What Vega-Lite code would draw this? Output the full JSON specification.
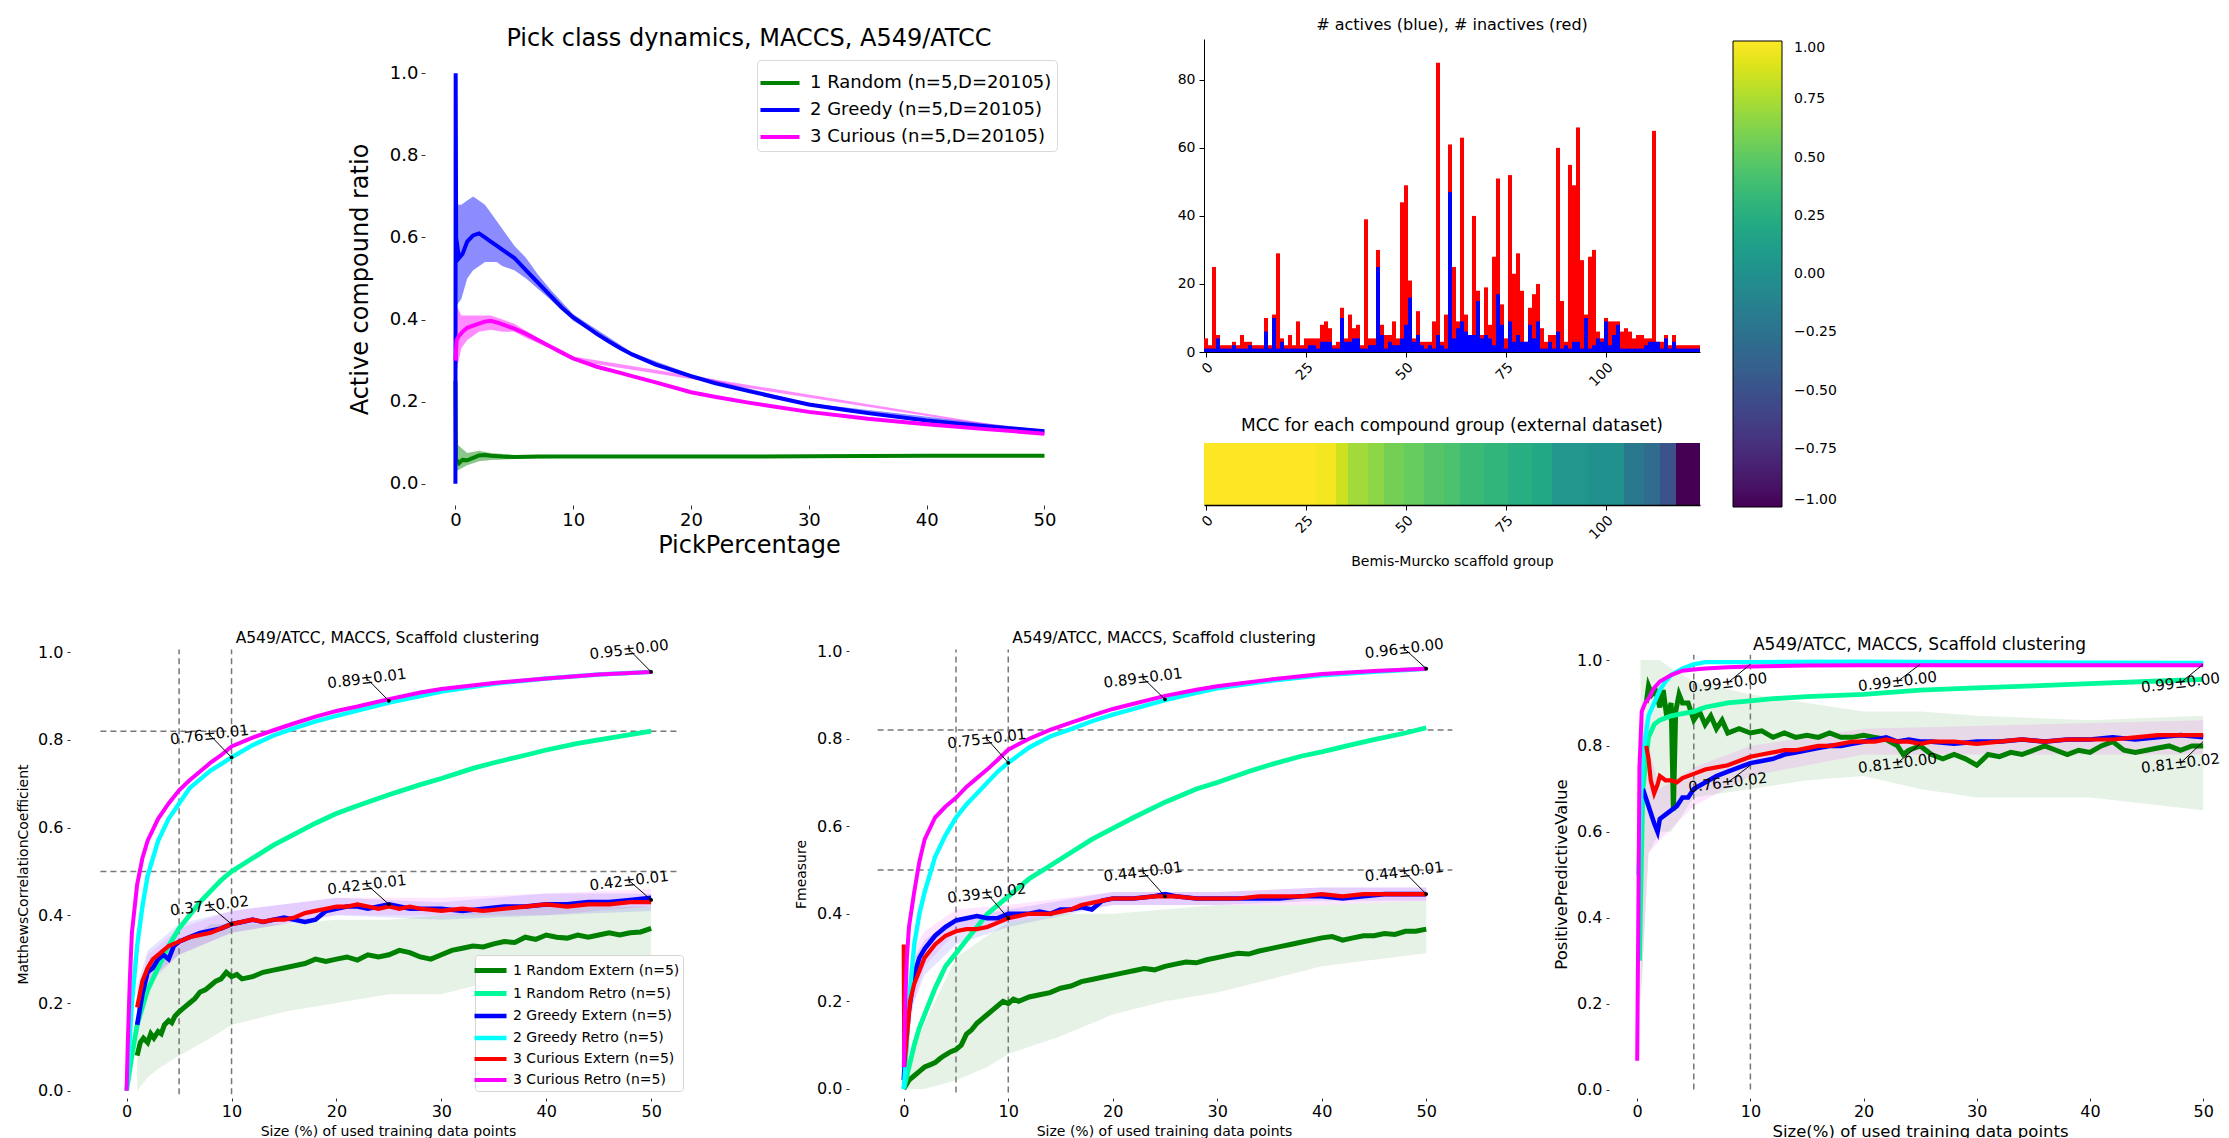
{
"$schema":"https://vega.github.io/schema/vega-lite/v6.json",
"padding":{"left":16,"top":16,"right":0,"bottom":0},
"background":"white",
"config":{"font":"DejaVu Sans","view":{"stroke":"transparent"},
 "axis":{"grid":false,"domain":false,"tickColor":"#333333","labelColor":"#000000","titleColor":"#000000","titleFontWeight":"normal"},
 "title":{"fontWeight":"normal","color":"#000000"},
 "legend":{"labelColor":"#000000","labelLimit":400}},
"datasets":{
"a":[
{"s":"1R","x":0,"y":0.25},{"s":"1R","x":0.05,"y":0.06},{"s":"1R","x":0.3,"y":0.05},{"s":"1R","x":0.6,"y":0.058},{"s":"1R","x":1,"y":0.057},{"s":"1R","x":1.5,"y":0.063},{"s":"1R","x":2,"y":0.069},{"s":"1R","x":2.5,"y":0.07},{"s":"1R","x":3,"y":0.068},{"s":"1R","x":4,"y":0.066},{"s":"1R","x":5,"y":0.065},{"s":"1R","x":7,"y":0.066},{"s":"1R","x":10,"y":0.066},{"s":"1R","x":15,"y":0.066},{"s":"1R","x":20,"y":0.066},{"s":"1R","x":25,"y":0.066},{"s":"1R","x":30,"y":0.067},{"s":"1R","x":40,"y":0.068},{"s":"1R","x":50,"y":0.068},
{"s":"2G","x":0,"y":0},{"s":"2G","x":0.02,"y":1.0},{"s":"2G","x":0.06,"y":0.6},{"s":"2G","x":0.3,"y":0.55},{"s":"2G","x":0.6,"y":0.56},{"s":"2G","x":1,"y":0.59},{"s":"2G","x":1.5,"y":0.605},{"s":"2G","x":2,"y":0.61},{"s":"2G","x":2.5,"y":0.6},{"s":"2G","x":3,"y":0.59},{"s":"2G","x":3.5,"y":0.58},{"s":"2G","x":4,"y":0.57},{"s":"2G","x":5,"y":0.55},{"s":"2G","x":6,"y":0.52},{"s":"2G","x":7,"y":0.49},{"s":"2G","x":8,"y":0.46},{"s":"2G","x":9,"y":0.43},{"s":"2G","x":10,"y":0.405},{"s":"2G","x":11,"y":0.385},{"s":"2G","x":12,"y":0.365},{"s":"2G","x":13,"y":0.347},{"s":"2G","x":14,"y":0.33},{"s":"2G","x":15,"y":0.315},{"s":"2G","x":17,"y":0.29},{"s":"2G","x":20,"y":0.262},{"s":"2G","x":22,"y":0.245},{"s":"2G","x":25,"y":0.225},{"s":"2G","x":27,"y":0.212},{"s":"2G","x":30,"y":0.193},{"s":"2G","x":33,"y":0.18},{"s":"2G","x":35,"y":0.172},{"s":"2G","x":40,"y":0.154},{"s":"2G","x":45,"y":0.14},{"s":"2G","x":50,"y":0.128},
{"s":"3C","x":0,"y":0.3},{"s":"3C","x":0.1,"y":0.35},{"s":"3C","x":0.3,"y":0.36},{"s":"3C","x":0.6,"y":0.37},{"s":"3C","x":1,"y":0.38},{"s":"3C","x":1.5,"y":0.385},{"s":"3C","x":2,"y":0.39},{"s":"3C","x":2.5,"y":0.395},{"s":"3C","x":3,"y":0.397},{"s":"3C","x":3.5,"y":0.393},{"s":"3C","x":4,"y":0.388},{"s":"3C","x":5,"y":0.378},{"s":"3C","x":6,"y":0.365},{"s":"3C","x":7,"y":0.35},{"s":"3C","x":8,"y":0.335},{"s":"3C","x":9,"y":0.32},{"s":"3C","x":10,"y":0.305},{"s":"3C","x":12,"y":0.285},{"s":"3C","x":14,"y":0.27},{"s":"3C","x":15,"y":0.262},{"s":"3C","x":17,"y":0.247},{"s":"3C","x":20,"y":0.223},{"s":"3C","x":22,"y":0.212},{"s":"3C","x":25,"y":0.197},{"s":"3C","x":27,"y":0.188},{"s":"3C","x":30,"y":0.175},{"s":"3C","x":35,"y":0.158},{"s":"3C","x":40,"y":0.145},{"s":"3C","x":45,"y":0.133},{"s":"3C","x":50,"y":0.122}],
"ab":[
{"s":"1R","x":0,"lo":0.03,"hi":0.1},{"s":"1R","x":1,"lo":0.045,"hi":0.075},{"s":"1R","x":2,"lo":0.055,"hi":0.08},{"s":"1R","x":3,"lo":0.058,"hi":0.075},{"s":"1R","x":5,"lo":0.06,"hi":0.07},{"s":"1R","x":10,"lo":0.063,"hi":0.069},{"s":"1R","x":50,"lo":0.066,"hi":0.07},
{"s":"2G","x":0,"lo":0.43,"hi":0.68},{"s":"2G","x":0.5,"lo":0.45,"hi":0.68},{"s":"2G","x":1,"lo":0.5,"hi":0.69},{"s":"2G","x":1.5,"lo":0.52,"hi":0.7},{"s":"2G","x":2,"lo":0.53,"hi":0.69},{"s":"2G","x":2.5,"lo":0.54,"hi":0.68},{"s":"2G","x":3,"lo":0.54,"hi":0.66},{"s":"2G","x":3.5,"lo":0.54,"hi":0.64},{"s":"2G","x":4,"lo":0.53,"hi":0.62},{"s":"2G","x":5,"lo":0.52,"hi":0.58},{"s":"2G","x":6,"lo":0.5,"hi":0.55},{"s":"2G","x":7,"lo":0.475,"hi":0.51},{"s":"2G","x":8,"lo":0.45,"hi":0.475},{"s":"2G","x":10,"lo":0.397,"hi":0.413},{"s":"2G","x":15,"lo":0.31,"hi":0.32},{"s":"2G","x":20,"lo":0.257,"hi":0.267},{"s":"2G","x":30,"lo":0.19,"hi":0.196},{"s":"2G","x":50,"lo":0.126,"hi":0.131},
{"s":"3C","x":0,"lo":0.26,"hi":0.44},{"s":"3C","x":0.5,"lo":0.33,"hi":0.41},{"s":"3C","x":1,"lo":0.35,"hi":0.41},{"s":"3C","x":2,"lo":0.37,"hi":0.41},{"s":"3C","x":3,"lo":0.375,"hi":0.41},{"s":"3C","x":4,"lo":0.37,"hi":0.4},{"s":"3C","x":5,"lo":0.37,"hi":0.39},{"s":"3C","x":6,"lo":0.355,"hi":0.372},{"s":"3C","x":8,"lo":0.33,"hi":0.34},{"s":"3C","x":10,"lo":0.3,"hi":0.31},{"s":"3C","x":50,"lo":0.12,"hi":0.124}],
"bi":[{"g":0,"n":4},{"g":1,"n":2},{"g":2,"n":25},{"g":3,"n":5},{"g":4,"n":2},{"g":5,"n":2},{"g":6,"n":2},{"g":7,"n":3},{"g":8,"n":2},{"g":9,"n":5},{"g":10,"n":3},{"g":11,"n":3},{"g":12,"n":2},{"g":13,"n":2},{"g":14,"n":2},{"g":15,"n":10},{"g":16,"n":2},{"g":17,"n":11},{"g":18,"n":29},{"g":19,"n":4},{"g":20,"n":2},{"g":21,"n":5},{"g":22,"n":2},{"g":23,"n":9},{"g":24,"n":2},{"g":25,"n":4},{"g":26,"n":4},{"g":27,"n":4},{"g":28,"n":4},{"g":29,"n":8},{"g":30,"n":9},{"g":31,"n":7},{"g":32,"n":2},{"g":33,"n":3},{"g":34,"n":13},{"g":35,"n":4},{"g":36,"n":11},{"g":37,"n":7},{"g":38,"n":8},{"g":39,"n":2},{"g":40,"n":39},{"g":41,"n":4},{"g":42,"n":4},{"g":43,"n":30},{"g":44,"n":8},{"g":45,"n":5},{"g":46,"n":5},{"g":47,"n":9},{"g":48,"n":4},{"g":49,"n":44},{"g":50,"n":49},{"g":51,"n":21},{"g":52,"n":4},{"g":53,"n":12},{"g":54,"n":3},{"g":55,"n":3},{"g":56,"n":3},{"g":57,"n":9},{"g":58,"n":85},{"g":59,"n":3},{"g":60,"n":11},{"g":61,"n":61},{"g":62,"n":25},{"g":63,"n":9},{"g":64,"n":63},{"g":65,"n":11},{"g":66,"n":5},{"g":67,"n":40},{"g":68,"n":18},{"g":69,"n":5},{"g":70,"n":19},{"g":71,"n":8},{"g":72,"n":28},{"g":73,"n":51},{"g":74,"n":14},{"g":75,"n":4},{"g":76,"n":52},{"g":77,"n":23},{"g":78,"n":29},{"g":79,"n":18},{"g":80,"n":3},{"g":81,"n":13},{"g":82,"n":17},{"g":83,"n":20},{"g":84,"n":7},{"g":85,"n":3},{"g":86,"n":5},{"g":87,"n":5},{"g":88,"n":60},{"g":89,"n":15},{"g":90,"n":3},{"g":91,"n":55},{"g":92,"n":49},{"g":93,"n":66},{"g":94,"n":27},{"g":95,"n":11},{"g":96,"n":28},{"g":97,"n":30},{"g":98,"n":6},{"g":99,"n":4},{"g":100,"n":10},{"g":101,"n":9},{"g":102,"n":9},{"g":103,"n":9},{"g":104,"n":6},{"g":105,"n":7},{"g":106,"n":6},{"g":107,"n":4},{"g":108,"n":5},{"g":109,"n":5},{"g":110,"n":4},{"g":111,"n":4},{"g":112,"n":65},{"g":113,"n":3},{"g":114,"n":3},{"g":115,"n":5},{"g":116,"n":2},{"g":117,"n":5},{"g":118,"n":2},{"g":119,"n":2},{"g":120,"n":2},{"g":121,"n":2},{"g":122,"n":2},{"g":123,"n":2}],
"ba":[{"g":0,"n":1},{"g":1,"n":1},{"g":2,"n":1},{"g":3,"n":4},{"g":4,"n":1},{"g":5,"n":1},{"g":6,"n":1},{"g":7,"n":2},{"g":8,"n":1},{"g":9,"n":1},{"g":10,"n":1},{"g":11,"n":2},{"g":12,"n":1},{"g":13,"n":1},{"g":14,"n":1},{"g":15,"n":6},{"g":16,"n":1},{"g":17,"n":10},{"g":18,"n":1},{"g":19,"n":3},{"g":20,"n":1},{"g":21,"n":1},{"g":22,"n":1},{"g":23,"n":1},{"g":24,"n":1},{"g":25,"n":1},{"g":26,"n":2},{"g":27,"n":2},{"g":28,"n":1},{"g":29,"n":3},{"g":30,"n":3},{"g":31,"n":3},{"g":32,"n":1},{"g":33,"n":1},{"g":34,"n":10},{"g":35,"n":3},{"g":36,"n":3},{"g":37,"n":4},{"g":38,"n":4},{"g":39,"n":1},{"g":40,"n":1},{"g":41,"n":2},{"g":42,"n":2},{"g":43,"n":25},{"g":44,"n":5},{"g":45,"n":1},{"g":46,"n":3},{"g":47,"n":2},{"g":48,"n":2},{"g":49,"n":4},{"g":50,"n":8},{"g":51,"n":16},{"g":52,"n":3},{"g":53,"n":5},{"g":54,"n":2},{"g":55,"n":1},{"g":56,"n":2},{"g":57,"n":1},{"g":58,"n":5},{"g":59,"n":2},{"g":60,"n":1},{"g":61,"n":47},{"g":62,"n":4},{"g":63,"n":7},{"g":64,"n":9},{"g":65,"n":6},{"g":66,"n":5},{"g":67,"n":5},{"g":68,"n":15},{"g":69,"n":4},{"g":70,"n":5},{"g":71,"n":4},{"g":72,"n":2},{"g":73,"n":17},{"g":74,"n":8},{"g":75,"n":1},{"g":76,"n":9},{"g":77,"n":3},{"g":78,"n":5},{"g":79,"n":3},{"g":80,"n":3},{"g":81,"n":8},{"g":82,"n":4},{"g":83,"n":9},{"g":84,"n":1},{"g":85,"n":1},{"g":86,"n":3},{"g":87,"n":1},{"g":88,"n":6},{"g":89,"n":1},{"g":90,"n":2},{"g":91,"n":1},{"g":92,"n":3},{"g":93,"n":3},{"g":94,"n":1},{"g":95,"n":10},{"g":96,"n":1},{"g":97,"n":2},{"g":98,"n":4},{"g":99,"n":3},{"g":100,"n":9},{"g":101,"n":2},{"g":102,"n":5},{"g":103,"n":8},{"g":104,"n":1},{"g":105,"n":1},{"g":106,"n":1},{"g":107,"n":1},{"g":108,"n":1},{"g":109,"n":1},{"g":110,"n":2},{"g":111,"n":3},{"g":112,"n":3},{"g":113,"n":3},{"g":114,"n":1},{"g":115,"n":4},{"g":116,"n":1},{"g":117,"n":3},{"g":118,"n":1},{"g":119,"n":1},{"g":120,"n":1},{"g":121,"n":1},{"g":122,"n":1},{"g":123,"n":1}],
"hm":[{"g":0,"v":1},{"g":1,"v":1},{"g":2,"v":1},{"g":3,"v":1},{"g":4,"v":1},{"g":5,"v":1},{"g":6,"v":1},{"g":7,"v":1},{"g":8,"v":1},{"g":9,"v":1},{"g":10,"v":1},{"g":11,"v":1},{"g":12,"v":1},{"g":13,"v":1},{"g":14,"v":1},{"g":15,"v":1},{"g":16,"v":1},{"g":17,"v":1},{"g":18,"v":1},{"g":19,"v":1},{"g":20,"v":1},{"g":21,"v":1},{"g":22,"v":1},{"g":23,"v":1},{"g":24,"v":1},{"g":25,"v":1},{"g":26,"v":1},{"g":27,"v":1},{"g":28,"v":0.97},{"g":29,"v":0.97},{"g":30,"v":0.97},{"g":31,"v":0.97},{"g":32,"v":0.97},{"g":33,"v":0.85},{"g":34,"v":0.85},{"g":35,"v":0.85},{"g":36,"v":0.72},{"g":37,"v":0.72},{"g":38,"v":0.72},{"g":39,"v":0.72},{"g":40,"v":0.72},{"g":41,"v":0.66},{"g":42,"v":0.66},{"g":43,"v":0.66},{"g":44,"v":0.66},{"g":45,"v":0.58},{"g":46,"v":0.58},{"g":47,"v":0.58},{"g":48,"v":0.58},{"g":49,"v":0.58},{"g":50,"v":0.53},{"g":51,"v":0.53},{"g":52,"v":0.53},{"g":53,"v":0.53},{"g":54,"v":0.53},{"g":55,"v":0.47},{"g":56,"v":0.47},{"g":57,"v":0.47},{"g":58,"v":0.47},{"g":59,"v":0.47},{"g":60,"v":0.43},{"g":61,"v":0.43},{"g":62,"v":0.43},{"g":63,"v":0.43},{"g":64,"v":0.36},{"g":65,"v":0.36},{"g":66,"v":0.36},{"g":67,"v":0.36},{"g":68,"v":0.36},{"g":69,"v":0.36},{"g":70,"v":0.31},{"g":71,"v":0.31},{"g":72,"v":0.31},{"g":73,"v":0.31},{"g":74,"v":0.31},{"g":75,"v":0.31},{"g":76,"v":0.25},{"g":77,"v":0.25},{"g":78,"v":0.25},{"g":79,"v":0.25},{"g":80,"v":0.25},{"g":81,"v":0.25},{"g":82,"v":0.2},{"g":83,"v":0.2},{"g":84,"v":0.2},{"g":85,"v":0.2},{"g":86,"v":0.2},{"g":87,"v":0.05},{"g":88,"v":0.05},{"g":89,"v":0.05},{"g":90,"v":0.05},{"g":91,"v":0.05},{"g":92,"v":0.05},{"g":93,"v":0.05},{"g":94,"v":0.05},{"g":95,"v":0.05},{"g":96,"v":0},{"g":97,"v":0},{"g":98,"v":0},{"g":99,"v":0},{"g":100,"v":0},{"g":101,"v":0},{"g":102,"v":0},{"g":103,"v":0},{"g":104,"v":0},{"g":105,"v":-0.2},{"g":106,"v":-0.2},{"g":107,"v":-0.2},{"g":108,"v":-0.2},{"g":109,"v":-0.2},{"g":110,"v":-0.3},{"g":111,"v":-0.3},{"g":112,"v":-0.3},{"g":113,"v":-0.3},{"g":114,"v":-0.5},{"g":115,"v":-0.5},{"g":116,"v":-0.5},{"g":117,"v":-0.5},{"g":118,"v":-1},{"g":119,"v":-1},{"g":120,"v":-1},{"g":121,"v":-1},{"g":122,"v":-1},{"g":123,"v":-1}],
"vl":[{"x":5},{"x":10}],
"hl":[{"y":0.82},{"y":0.5}],
"m":[
{"s":"1RE","x":1,"y":0.08},{"s":"1RE","x":1.3,"y":0.11},{"s":"1RE","x":1.6,"y":0.12},{"s":"1RE","x":2,"y":0.11},{"s":"1RE","x":2.3,"y":0.13},{"s":"1RE","x":2.6,"y":0.12},{"s":"1RE","x":3,"y":0.135},{"s":"1RE","x":3.3,"y":0.13},{"s":"1RE","x":3.6,"y":0.15},{"s":"1RE","x":4,"y":0.16},{"s":"1RE","x":4.3,"y":0.155},{"s":"1RE","x":4.6,"y":0.17},{"s":"1RE","x":5,"y":0.18},{"s":"1RE","x":5.5,"y":0.19},{"s":"1RE","x":6,"y":0.2},{"s":"1RE","x":6.5,"y":0.21},{"s":"1RE","x":7,"y":0.225},{"s":"1RE","x":7.5,"y":0.23},{"s":"1RE","x":8,"y":0.24},{"s":"1RE","x":8.5,"y":0.25},{"s":"1RE","x":9,"y":0.255},{"s":"1RE","x":9.5,"y":0.27},{"s":"1RE","x":10,"y":0.26},{"s":"1RE","x":10.5,"y":0.265},{"s":"1RE","x":11,"y":0.255},{"s":"1RE","x":12,"y":0.26},{"s":"1RE","x":13,"y":0.27},{"s":"1RE","x":14,"y":0.275},{"s":"1RE","x":15,"y":0.28},{"s":"1RE","x":16,"y":0.285},{"s":"1RE","x":17,"y":0.29},{"s":"1RE","x":18,"y":0.3},{"s":"1RE","x":19,"y":0.295},{"s":"1RE","x":20,"y":0.3},{"s":"1RE","x":21,"y":0.305},{"s":"1RE","x":22,"y":0.298},{"s":"1RE","x":23,"y":0.31},{"s":"1RE","x":24,"y":0.305},{"s":"1RE","x":25,"y":0.31},{"s":"1RE","x":26,"y":0.32},{"s":"1RE","x":27,"y":0.315},{"s":"1RE","x":28,"y":0.305},{"s":"1RE","x":29,"y":0.3},{"s":"1RE","x":30,"y":0.31},{"s":"1RE","x":31,"y":0.32},{"s":"1RE","x":32,"y":0.325},{"s":"1RE","x":33,"y":0.33},{"s":"1RE","x":34,"y":0.328},{"s":"1RE","x":35,"y":0.335},{"s":"1RE","x":36,"y":0.34},{"s":"1RE","x":37,"y":0.338},{"s":"1RE","x":38,"y":0.35},{"s":"1RE","x":39,"y":0.345},{"s":"1RE","x":40,"y":0.355},{"s":"1RE","x":41,"y":0.35},{"s":"1RE","x":42,"y":0.348},{"s":"1RE","x":43,"y":0.355},{"s":"1RE","x":44,"y":0.35},{"s":"1RE","x":45,"y":0.355},{"s":"1RE","x":46,"y":0.36},{"s":"1RE","x":47,"y":0.355},{"s":"1RE","x":48,"y":0.36},{"s":"1RE","x":49,"y":0.362},{"s":"1RE","x":50,"y":0.37},
{"s":"1RR","x":0,"y":0},{"s":"1RR","x":0.5,"y":0.08},{"s":"1RR","x":1,"y":0.15},{"s":"1RR","x":1.5,"y":0.19},{"s":"1RR","x":2,"y":0.23},{"s":"1RR","x":3,"y":0.28},{"s":"1RR","x":4,"y":0.33},{"s":"1RR","x":5,"y":0.37},{"s":"1RR","x":6,"y":0.4},{"s":"1RR","x":7,"y":0.43},{"s":"1RR","x":8,"y":0.455},{"s":"1RR","x":9,"y":0.48},{"s":"1RR","x":10,"y":0.5},{"s":"1RR","x":12,"y":0.53},{"s":"1RR","x":14,"y":0.56},{"s":"1RR","x":16,"y":0.585},{"s":"1RR","x":18,"y":0.61},{"s":"1RR","x":20,"y":0.632},{"s":"1RR","x":22,"y":0.65},{"s":"1RR","x":25,"y":0.675},{"s":"1RR","x":28,"y":0.698},{"s":"1RR","x":30,"y":0.712},{"s":"1RR","x":33,"y":0.735},{"s":"1RR","x":35,"y":0.748},{"s":"1RR","x":38,"y":0.765},{"s":"1RR","x":40,"y":0.777},{"s":"1RR","x":43,"y":0.792},{"s":"1RR","x":45,"y":0.8},{"s":"1RR","x":48,"y":0.812},{"s":"1RR","x":50,"y":0.82},
{"s":"2GE","x":1,"y":0.15},{"s":"2GE","x":1.5,"y":0.22},{"s":"2GE","x":2,"y":0.27},{"s":"2GE","x":2.5,"y":0.28},{"s":"2GE","x":3,"y":0.3},{"s":"2GE","x":3.5,"y":0.31},{"s":"2GE","x":4,"y":0.3},{"s":"2GE","x":4.5,"y":0.33},{"s":"2GE","x":5,"y":0.34},{"s":"2GE","x":6,"y":0.35},{"s":"2GE","x":7,"y":0.36},{"s":"2GE","x":8,"y":0.365},{"s":"2GE","x":9,"y":0.37},{"s":"2GE","x":10,"y":0.38},{"s":"2GE","x":11,"y":0.385},{"s":"2GE","x":12,"y":0.39},{"s":"2GE","x":13,"y":0.385},{"s":"2GE","x":14,"y":0.39},{"s":"2GE","x":15,"y":0.395},{"s":"2GE","x":16,"y":0.39},{"s":"2GE","x":17,"y":0.385},{"s":"2GE","x":18,"y":0.39},{"s":"2GE","x":19,"y":0.41},{"s":"2GE","x":20,"y":0.415},{"s":"2GE","x":21,"y":0.42},{"s":"2GE","x":22,"y":0.42},{"s":"2GE","x":23,"y":0.415},{"s":"2GE","x":24,"y":0.42},{"s":"2GE","x":25,"y":0.425},{"s":"2GE","x":26,"y":0.42},{"s":"2GE","x":27,"y":0.415},{"s":"2GE","x":28,"y":0.415},{"s":"2GE","x":30,"y":0.415},{"s":"2GE","x":32,"y":0.41},{"s":"2GE","x":34,"y":0.415},{"s":"2GE","x":36,"y":0.42},{"s":"2GE","x":38,"y":0.42},{"s":"2GE","x":40,"y":0.425},{"s":"2GE","x":42,"y":0.425},{"s":"2GE","x":44,"y":0.43},{"s":"2GE","x":46,"y":0.43},{"s":"2GE","x":48,"y":0.435},{"s":"2GE","x":50,"y":0.44},
{"s":"2GR","x":0,"y":0},{"s":"2GR","x":0.3,"y":0.12},{"s":"2GR","x":0.5,"y":0.2},{"s":"2GR","x":1,"y":0.33},{"s":"2GR","x":1.5,"y":0.42},{"s":"2GR","x":2,"y":0.49},{"s":"2GR","x":2.5,"y":0.53},{"s":"2GR","x":3,"y":0.57},{"s":"2GR","x":4,"y":0.62},{"s":"2GR","x":5,"y":0.655},{"s":"2GR","x":6,"y":0.69},{"s":"2GR","x":7,"y":0.71},{"s":"2GR","x":8,"y":0.73},{"s":"2GR","x":9,"y":0.745},{"s":"2GR","x":10,"y":0.76},{"s":"2GR","x":12,"y":0.788},{"s":"2GR","x":14,"y":0.81},{"s":"2GR","x":16,"y":0.827},{"s":"2GR","x":18,"y":0.842},{"s":"2GR","x":20,"y":0.855},{"s":"2GR","x":22,"y":0.867},{"s":"2GR","x":25,"y":0.885},{"s":"2GR","x":28,"y":0.9},{"s":"2GR","x":30,"y":0.91},{"s":"2GR","x":35,"y":0.928},{"s":"2GR","x":40,"y":0.94},{"s":"2GR","x":45,"y":0.949},{"s":"2GR","x":50,"y":0.955},
{"s":"3CE","x":1,"y":0.19},{"s":"3CE","x":1.5,"y":0.25},{"s":"3CE","x":2,"y":0.28},{"s":"3CE","x":2.5,"y":0.3},{"s":"3CE","x":3,"y":0.31},{"s":"3CE","x":3.5,"y":0.32},{"s":"3CE","x":4,"y":0.33},{"s":"3CE","x":5,"y":0.34},{"s":"3CE","x":6,"y":0.35},{"s":"3CE","x":7,"y":0.355},{"s":"3CE","x":8,"y":0.36},{"s":"3CE","x":9,"y":0.37},{"s":"3CE","x":10,"y":0.38},{"s":"3CE","x":11,"y":0.385},{"s":"3CE","x":12,"y":0.39},{"s":"3CE","x":13,"y":0.385},{"s":"3CE","x":14,"y":0.39},{"s":"3CE","x":15,"y":0.39},{"s":"3CE","x":16,"y":0.395},{"s":"3CE","x":17,"y":0.405},{"s":"3CE","x":18,"y":0.41},{"s":"3CE","x":19,"y":0.415},{"s":"3CE","x":20,"y":0.42},{"s":"3CE","x":21,"y":0.42},{"s":"3CE","x":22,"y":0.425},{"s":"3CE","x":23,"y":0.42},{"s":"3CE","x":24,"y":0.415},{"s":"3CE","x":25,"y":0.42},{"s":"3CE","x":26,"y":0.415},{"s":"3CE","x":27,"y":0.42},{"s":"3CE","x":28,"y":0.415},{"s":"3CE","x":30,"y":0.41},{"s":"3CE","x":32,"y":0.415},{"s":"3CE","x":34,"y":0.41},{"s":"3CE","x":36,"y":0.415},{"s":"3CE","x":38,"y":0.42},{"s":"3CE","x":40,"y":0.425},{"s":"3CE","x":42,"y":0.42},{"s":"3CE","x":44,"y":0.425},{"s":"3CE","x":46,"y":0.425},{"s":"3CE","x":48,"y":0.43},{"s":"3CE","x":50,"y":0.43},
{"s":"3CR","x":0,"y":0},{"s":"3CR","x":0.1,"y":0.1},{"s":"3CR","x":0.3,"y":0.25},{"s":"3CR","x":0.5,"y":0.36},{"s":"3CR","x":1,"y":0.47},{"s":"3CR","x":1.5,"y":0.53},{"s":"3CR","x":2,"y":0.57},{"s":"3CR","x":3,"y":0.62},{"s":"3CR","x":4,"y":0.655},{"s":"3CR","x":5,"y":0.685},{"s":"3CR","x":6,"y":0.708},{"s":"3CR","x":7,"y":0.728},{"s":"3CR","x":8,"y":0.748},{"s":"3CR","x":9,"y":0.765},{"s":"3CR","x":10,"y":0.785},{"s":"3CR","x":12,"y":0.805},{"s":"3CR","x":14,"y":0.822},{"s":"3CR","x":16,"y":0.838},{"s":"3CR","x":18,"y":0.853},{"s":"3CR","x":20,"y":0.866},{"s":"3CR","x":22,"y":0.876},{"s":"3CR","x":25,"y":0.893},{"s":"3CR","x":28,"y":0.908},{"s":"3CR","x":30,"y":0.916},{"s":"3CR","x":35,"y":0.93},{"s":"3CR","x":40,"y":0.94},{"s":"3CR","x":45,"y":0.949},{"s":"3CR","x":50,"y":0.955}],
"mb":[
{"s":"1RE","x":1,"lo":0.0,"hi":0.2},{"s":"1RE","x":2,"lo":0.03,"hi":0.25},{"s":"1RE","x":3,"lo":0.05,"hi":0.3},{"s":"1RE","x":5,"lo":0.08,"hi":0.33},{"s":"1RE","x":8,"lo":0.12,"hi":0.38},{"s":"1RE","x":10,"lo":0.15,"hi":0.38},{"s":"1RE","x":15,"lo":0.18,"hi":0.38},{"s":"1RE","x":20,"lo":0.2,"hi":0.39},{"s":"1RE","x":25,"lo":0.22,"hi":0.39},{"s":"1RE","x":30,"lo":0.22,"hi":0.4},{"s":"1RE","x":35,"lo":0.25,"hi":0.41},{"s":"1RE","x":40,"lo":0.27,"hi":0.42},{"s":"1RE","x":45,"lo":0.28,"hi":0.42},{"s":"1RE","x":50,"lo":0.29,"hi":0.42},
{"s":"2GE","x":1,"lo":0.12,"hi":0.2},{"s":"2GE","x":2,"lo":0.24,"hi":0.31},{"s":"2GE","x":5,"lo":0.31,"hi":0.37},{"s":"2GE","x":10,"lo":0.36,"hi":0.41},{"s":"2GE","x":20,"lo":0.4,"hi":0.44},{"s":"2GE","x":30,"lo":0.4,"hi":0.44},{"s":"2GE","x":40,"lo":0.4,"hi":0.45},{"s":"2GE","x":50,"lo":0.42,"hi":0.46},
{"s":"3CE","x":1,"lo":0.16,"hi":0.24},{"s":"3CE","x":2,"lo":0.25,"hi":0.32},{"s":"3CE","x":5,"lo":0.31,"hi":0.38},{"s":"3CE","x":10,"lo":0.36,"hi":0.41},{"s":"3CE","x":20,"lo":0.4,"hi":0.44},{"s":"3CE","x":30,"lo":0.39,"hi":0.43},{"s":"3CE","x":40,"lo":0.4,"hi":0.45},{"s":"3CE","x":50,"lo":0.41,"hi":0.45}],
"ma":[{"t":"0.76±0.01","x":10,"y":0.76,"tx":7.9,"ty":0.812},{"t":"0.89±0.01","x":25,"y":0.889,"tx":22.9,"ty":0.94},{"t":"0.95±0.00","x":50,"y":0.955,"tx":47.9,"ty":1.006},{"t":"0.37±0.02","x":10,"y":0.38,"tx":7.9,"ty":0.422},{"t":"0.42±0.01","x":25,"y":0.425,"tx":22.9,"ty":0.47},{"t":"0.42±0.01","x":50,"y":0.435,"tx":47.9,"ty":0.479}],
"f":[
{"k":"1RE","x":0,"y":0.0},{"k":"1RE","x":0.5,"y":0.02},{"k":"1RE","x":1,"y":0.03},{"k":"1RE","x":1.5,"y":0.04},{"k":"1RE","x":2,"y":0.05},{"k":"1RE","x":2.5,"y":0.055},{"k":"1RE","x":3,"y":0.06},{"k":"1RE","x":3.5,"y":0.07},{"k":"1RE","x":4,"y":0.078},{"k":"1RE","x":4.5,"y":0.085},{"k":"1RE","x":5,"y":0.09},{"k":"1RE","x":5.5,"y":0.1},{"k":"1RE","x":6,"y":0.125},{"k":"1RE","x":6.5,"y":0.135},{"k":"1RE","x":7,"y":0.15},{"k":"1RE","x":7.5,"y":0.16},{"k":"1RE","x":8,"y":0.17},{"k":"1RE","x":8.5,"y":0.18},{"k":"1RE","x":9,"y":0.19},{"k":"1RE","x":9.5,"y":0.2},{"k":"1RE","x":10,"y":0.195},{"k":"1RE","x":10.5,"y":0.205},{"k":"1RE","x":11,"y":0.2},{"k":"1RE","x":12,"y":0.21},{"k":"1RE","x":13,"y":0.215},{"k":"1RE","x":14,"y":0.22},{"k":"1RE","x":15,"y":0.23},{"k":"1RE","x":16,"y":0.235},{"k":"1RE","x":17,"y":0.245},{"k":"1RE","x":18,"y":0.25},{"k":"1RE","x":19,"y":0.255},{"k":"1RE","x":20,"y":0.26},{"k":"1RE","x":21,"y":0.265},{"k":"1RE","x":22,"y":0.27},{"k":"1RE","x":23,"y":0.275},{"k":"1RE","x":24,"y":0.272},{"k":"1RE","x":25,"y":0.28},{"k":"1RE","x":26,"y":0.285},{"k":"1RE","x":27,"y":0.29},{"k":"1RE","x":28,"y":0.288},{"k":"1RE","x":29,"y":0.295},{"k":"1RE","x":30,"y":0.3},{"k":"1RE","x":31,"y":0.305},{"k":"1RE","x":32,"y":0.31},{"k":"1RE","x":33,"y":0.308},{"k":"1RE","x":34,"y":0.315},{"k":"1RE","x":35,"y":0.32},{"k":"1RE","x":36,"y":0.325},{"k":"1RE","x":37,"y":0.33},{"k":"1RE","x":38,"y":0.335},{"k":"1RE","x":39,"y":0.34},{"k":"1RE","x":40,"y":0.345},{"k":"1RE","x":41,"y":0.348},{"k":"1RE","x":42,"y":0.34},{"k":"1RE","x":43,"y":0.345},{"k":"1RE","x":44,"y":0.35},{"k":"1RE","x":45,"y":0.35},{"k":"1RE","x":46,"y":0.355},{"k":"1RE","x":47,"y":0.353},{"k":"1RE","x":48,"y":0.36},{"k":"1RE","x":49,"y":0.36},{"k":"1RE","x":50,"y":0.365},
{"k":"1RR","x":0,"y":0},{"k":"1RR","x":0.5,"y":0.05},{"k":"1RR","x":1,"y":0.1},{"k":"1RR","x":1.5,"y":0.14},{"k":"1RR","x":2,"y":0.17},{"k":"1RR","x":3,"y":0.23},{"k":"1RR","x":4,"y":0.28},{"k":"1RR","x":5,"y":0.31},{"k":"1RR","x":6,"y":0.34},{"k":"1RR","x":7,"y":0.37},{"k":"1RR","x":8,"y":0.4},{"k":"1RR","x":9,"y":0.42},{"k":"1RR","x":10,"y":0.44},{"k":"1RR","x":12,"y":0.48},{"k":"1RR","x":14,"y":0.51},{"k":"1RR","x":16,"y":0.54},{"k":"1RR","x":18,"y":0.57},{"k":"1RR","x":20,"y":0.595},{"k":"1RR","x":22,"y":0.62},{"k":"1RR","x":25,"y":0.655},{"k":"1RR","x":28,"y":0.685},{"k":"1RR","x":30,"y":0.7},{"k":"1RR","x":33,"y":0.725},{"k":"1RR","x":35,"y":0.74},{"k":"1RR","x":38,"y":0.76},{"k":"1RR","x":40,"y":0.77},{"k":"1RR","x":43,"y":0.787},{"k":"1RR","x":45,"y":0.798},{"k":"1RR","x":48,"y":0.813},{"k":"1RR","x":50,"y":0.825},
{"k":"2GE","x":0,"y":0.02},{"k":"2GE","x":0.2,"y":0.1},{"k":"2GE","x":0.5,"y":0.18},{"k":"2GE","x":1,"y":0.26},{"k":"2GE","x":1.5,"y":0.3},{"k":"2GE","x":2,"y":0.32},{"k":"2GE","x":3,"y":0.35},{"k":"2GE","x":4,"y":0.37},{"k":"2GE","x":5,"y":0.385},{"k":"2GE","x":6,"y":0.39},{"k":"2GE","x":7,"y":0.395},{"k":"2GE","x":8,"y":0.39},{"k":"2GE","x":9,"y":0.39},{"k":"2GE","x":10,"y":0.4},{"k":"2GE","x":11,"y":0.4},{"k":"2GE","x":12,"y":0.4},{"k":"2GE","x":13,"y":0.405},{"k":"2GE","x":14,"y":0.4},{"k":"2GE","x":15,"y":0.41},{"k":"2GE","x":16,"y":0.41},{"k":"2GE","x":17,"y":0.415},{"k":"2GE","x":18,"y":0.41},{"k":"2GE","x":19,"y":0.43},{"k":"2GE","x":20,"y":0.435},{"k":"2GE","x":22,"y":0.435},{"k":"2GE","x":24,"y":0.44},{"k":"2GE","x":25,"y":0.445},{"k":"2GE","x":26,"y":0.44},{"k":"2GE","x":28,"y":0.435},{"k":"2GE","x":30,"y":0.435},{"k":"2GE","x":32,"y":0.435},{"k":"2GE","x":34,"y":0.435},{"k":"2GE","x":36,"y":0.435},{"k":"2GE","x":38,"y":0.44},{"k":"2GE","x":40,"y":0.44},{"k":"2GE","x":42,"y":0.435},{"k":"2GE","x":44,"y":0.44},{"k":"2GE","x":46,"y":0.445},{"k":"2GE","x":48,"y":0.445},{"k":"2GE","x":50,"y":0.445},
{"k":"2GR","x":0,"y":0},{"k":"2GR","x":0.3,"y":0.1},{"k":"2GR","x":0.5,"y":0.2},{"k":"2GR","x":1,"y":0.33},{"k":"2GR","x":1.5,"y":0.4},{"k":"2GR","x":2,"y":0.45},{"k":"2GR","x":3,"y":0.53},{"k":"2GR","x":4,"y":0.58},{"k":"2GR","x":5,"y":0.62},{"k":"2GR","x":6,"y":0.65},{"k":"2GR","x":7,"y":0.675},{"k":"2GR","x":8,"y":0.7},{"k":"2GR","x":9,"y":0.725},{"k":"2GR","x":10,"y":0.745},{"k":"2GR","x":12,"y":0.78},{"k":"2GR","x":14,"y":0.805},{"k":"2GR","x":16,"y":0.822},{"k":"2GR","x":18,"y":0.84},{"k":"2GR","x":20,"y":0.855},{"k":"2GR","x":22,"y":0.868},{"k":"2GR","x":25,"y":0.888},{"k":"2GR","x":28,"y":0.905},{"k":"2GR","x":30,"y":0.915},{"k":"2GR","x":35,"y":0.932},{"k":"2GR","x":40,"y":0.945},{"k":"2GR","x":45,"y":0.953},{"k":"2GR","x":50,"y":0.96},
{"k":"3CE","x":0,"y":0.33},{"k":"3CE","x":0.05,"y":0.05},{"k":"3CE","x":0.3,"y":0.12},{"k":"3CE","x":0.6,"y":0.2},{"k":"3CE","x":1,"y":0.24},{"k":"3CE","x":1.5,"y":0.27},{"k":"3CE","x":2,"y":0.3},{"k":"3CE","x":3,"y":0.33},{"k":"3CE","x":4,"y":0.35},{"k":"3CE","x":5,"y":0.36},{"k":"3CE","x":6,"y":0.365},{"k":"3CE","x":7,"y":0.365},{"k":"3CE","x":8,"y":0.37},{"k":"3CE","x":9,"y":0.38},{"k":"3CE","x":10,"y":0.39},{"k":"3CE","x":11,"y":0.395},{"k":"3CE","x":12,"y":0.4},{"k":"3CE","x":13,"y":0.4},{"k":"3CE","x":14,"y":0.4},{"k":"3CE","x":15,"y":0.405},{"k":"3CE","x":16,"y":0.41},{"k":"3CE","x":17,"y":0.42},{"k":"3CE","x":18,"y":0.425},{"k":"3CE","x":19,"y":0.43},{"k":"3CE","x":20,"y":0.435},{"k":"3CE","x":22,"y":0.435},{"k":"3CE","x":24,"y":0.44},{"k":"3CE","x":25,"y":0.44},{"k":"3CE","x":26,"y":0.44},{"k":"3CE","x":28,"y":0.435},{"k":"3CE","x":30,"y":0.435},{"k":"3CE","x":32,"y":0.435},{"k":"3CE","x":34,"y":0.44},{"k":"3CE","x":36,"y":0.44},{"k":"3CE","x":38,"y":0.44},{"k":"3CE","x":40,"y":0.445},{"k":"3CE","x":42,"y":0.44},{"k":"3CE","x":44,"y":0.445},{"k":"3CE","x":46,"y":0.445},{"k":"3CE","x":48,"y":0.445},{"k":"3CE","x":50,"y":0.445},
{"k":"3CR","x":0,"y":0.05},{"k":"3CR","x":0.15,"y":0.2},{"k":"3CR","x":0.3,"y":0.3},{"k":"3CR","x":0.5,"y":0.37},{"k":"3CR","x":1,"y":0.45},{"k":"3CR","x":1.5,"y":0.52},{"k":"3CR","x":2,"y":0.57},{"k":"3CR","x":3,"y":0.62},{"k":"3CR","x":4,"y":0.645},{"k":"3CR","x":5,"y":0.665},{"k":"3CR","x":6,"y":0.69},{"k":"3CR","x":7,"y":0.71},{"k":"3CR","x":8,"y":0.73},{"k":"3CR","x":9,"y":0.752},{"k":"3CR","x":10,"y":0.775},{"k":"3CR","x":12,"y":0.8},{"k":"3CR","x":14,"y":0.82},{"k":"3CR","x":16,"y":0.837},{"k":"3CR","x":18,"y":0.853},{"k":"3CR","x":20,"y":0.868},{"k":"3CR","x":22,"y":0.88},{"k":"3CR","x":25,"y":0.898},{"k":"3CR","x":28,"y":0.912},{"k":"3CR","x":30,"y":0.92},{"k":"3CR","x":35,"y":0.935},{"k":"3CR","x":40,"y":0.948},{"k":"3CR","x":45,"y":0.955},{"k":"3CR","x":50,"y":0.96}],
"fb":[
{"s":"1RE","x":0,"lo":0,"hi":0.03},{"s":"1RE","x":2,"lo":0,"hi":0.15},{"s":"1RE","x":5,"lo":0.02,"hi":0.3},{"s":"1RE","x":8,"lo":0.05,"hi":0.35},{"s":"1RE","x":10,"lo":0.08,"hi":0.38},{"s":"1RE","x":15,"lo":0.12,"hi":0.4},{"s":"1RE","x":20,"lo":0.17,"hi":0.4},{"s":"1RE","x":25,"lo":0.2,"hi":0.41},{"s":"1RE","x":30,"lo":0.22,"hi":0.42},{"s":"1RE","x":40,"lo":0.28,"hi":0.42},{"s":"1RE","x":50,"lo":0.31,"hi":0.43},
{"s":"2GE","x":0.5,"lo":0.12,"hi":0.25},{"s":"2GE","x":1,"lo":0.2,"hi":0.32},{"s":"2GE","x":2,"lo":0.28,"hi":0.36},{"s":"2GE","x":5,"lo":0.36,"hi":0.41},{"s":"2GE","x":10,"lo":0.38,"hi":0.42},{"s":"2GE","x":20,"lo":0.42,"hi":0.45},{"s":"2GE","x":30,"lo":0.42,"hi":0.45},{"s":"2GE","x":40,"lo":0.42,"hi":0.46},{"s":"2GE","x":50,"lo":0.43,"hi":0.46},
{"s":"3CE","x":0.5,"lo":0.15,"hi":0.25},{"s":"3CE","x":1,"lo":0.2,"hi":0.3},{"s":"3CE","x":2,"lo":0.26,"hi":0.34},{"s":"3CE","x":5,"lo":0.33,"hi":0.39},{"s":"3CE","x":10,"lo":0.37,"hi":0.41},{"s":"3CE","x":20,"lo":0.42,"hi":0.45},{"s":"3CE","x":30,"lo":0.42,"hi":0.45},{"s":"3CE","x":40,"lo":0.43,"hi":0.46},{"s":"3CE","x":50,"lo":0.43,"hi":0.46}],
"fa":[{"t":"0.75±0.01","x":10,"y":0.745,"tx":7.95,"ty":0.8},{"t":"0.89±0.01","x":25,"y":0.89,"tx":22.9,"ty":0.939},{"t":"0.96±0.00","x":50,"y":0.96,"tx":47.9,"ty":1.006},{"t":"0.39±0.02","x":10,"y":0.39,"tx":7.95,"ty":0.447},{"t":"0.44±0.01","x":25,"y":0.44,"tx":22.9,"ty":0.496},{"t":"0.44±0.01","x":50,"y":0.445,"tx":47.9,"ty":0.496}],
"p":[
{"s":"1RE","x":0.8,"y":0.9},{"s":"1RE","x":1,"y":0.94},{"s":"1RE","x":1.3,"y":0.92},{"s":"1RE","x":1.6,"y":0.93},{"s":"1RE","x":2,"y":0.89},{"s":"1RE","x":2.3,"y":0.93},{"s":"1RE","x":2.6,"y":0.87},{"s":"1RE","x":3,"y":0.9},{"s":"1RE","x":3.2,"y":0.65},{"s":"1RE","x":3.4,"y":0.88},{"s":"1RE","x":3.7,"y":0.92},{"s":"1RE","x":4,"y":0.9},{"s":"1RE","x":4.5,"y":0.9},{"s":"1RE","x":5,"y":0.86},{"s":"1RE","x":5.5,"y":0.88},{"s":"1RE","x":6,"y":0.85},{"s":"1RE","x":6.5,"y":0.87},{"s":"1RE","x":7,"y":0.84},{"s":"1RE","x":7.5,"y":0.86},{"s":"1RE","x":8,"y":0.83},{"s":"1RE","x":9,"y":0.84},{"s":"1RE","x":10,"y":0.83},{"s":"1RE","x":11,"y":0.835},{"s":"1RE","x":12,"y":0.82},{"s":"1RE","x":13,"y":0.83},{"s":"1RE","x":14,"y":0.82},{"s":"1RE","x":15,"y":0.825},{"s":"1RE","x":16,"y":0.82},{"s":"1RE","x":17,"y":0.83},{"s":"1RE","x":18,"y":0.82},{"s":"1RE","x":19,"y":0.82},{"s":"1RE","x":20,"y":0.825},{"s":"1RE","x":21,"y":0.82},{"s":"1RE","x":22,"y":0.815},{"s":"1RE","x":23,"y":0.8},{"s":"1RE","x":23.5,"y":0.78},{"s":"1RE","x":24,"y":0.79},{"s":"1RE","x":25,"y":0.8},{"s":"1RE","x":26,"y":0.78},{"s":"1RE","x":27,"y":0.77},{"s":"1RE","x":28,"y":0.78},{"s":"1RE","x":29,"y":0.77},{"s":"1RE","x":30,"y":0.755},{"s":"1RE","x":31,"y":0.78},{"s":"1RE","x":32,"y":0.775},{"s":"1RE","x":33,"y":0.785},{"s":"1RE","x":34,"y":0.78},{"s":"1RE","x":35,"y":0.79},{"s":"1RE","x":36,"y":0.8},{"s":"1RE","x":37,"y":0.79},{"s":"1RE","x":38,"y":0.78},{"s":"1RE","x":39,"y":0.79},{"s":"1RE","x":40,"y":0.785},{"s":"1RE","x":41,"y":0.8},{"s":"1RE","x":42,"y":0.81},{"s":"1RE","x":43,"y":0.79},{"s":"1RE","x":44,"y":0.785},{"s":"1RE","x":45,"y":0.79},{"s":"1RE","x":46,"y":0.795},{"s":"1RE","x":47,"y":0.8},{"s":"1RE","x":48,"y":0.79},{"s":"1RE","x":49,"y":0.8},{"s":"1RE","x":50,"y":0.8},
{"s":"1RR","x":0.2,"y":0.3},{"s":"1RR","x":0.5,"y":0.7},{"s":"1RR","x":1,"y":0.82},{"s":"1RR","x":1.5,"y":0.85},{"s":"1RR","x":2,"y":0.86},{"s":"1RR","x":3,"y":0.87},{"s":"1RR","x":4,"y":0.875},{"s":"1RR","x":5,"y":0.88},{"s":"1RR","x":6,"y":0.89},{"s":"1RR","x":7,"y":0.895},{"s":"1RR","x":8,"y":0.9},{"s":"1RR","x":10,"y":0.905},{"s":"1RR","x":12,"y":0.91},{"s":"1RR","x":15,"y":0.915},{"s":"1RR","x":20,"y":0.92},{"s":"1RR","x":25,"y":0.93},{"s":"1RR","x":30,"y":0.935},{"s":"1RR","x":35,"y":0.94},{"s":"1RR","x":40,"y":0.945},{"s":"1RR","x":45,"y":0.95},{"s":"1RR","x":50,"y":0.955},
{"s":"2GE","x":0.5,"y":0.7},{"s":"2GE","x":1,"y":0.66},{"s":"2GE","x":1.5,"y":0.62},{"s":"2GE","x":1.8,"y":0.6},{"s":"2GE","x":2,"y":0.63},{"s":"2GE","x":2.5,"y":0.64},{"s":"2GE","x":3,"y":0.65},{"s":"2GE","x":3.5,"y":0.66},{"s":"2GE","x":4,"y":0.68},{"s":"2GE","x":4.5,"y":0.68},{"s":"2GE","x":5,"y":0.7},{"s":"2GE","x":6,"y":0.715},{"s":"2GE","x":7,"y":0.73},{"s":"2GE","x":8,"y":0.74},{"s":"2GE","x":9,"y":0.75},{"s":"2GE","x":10,"y":0.76},{"s":"2GE","x":11,"y":0.765},{"s":"2GE","x":12,"y":0.77},{"s":"2GE","x":13,"y":0.78},{"s":"2GE","x":14,"y":0.785},{"s":"2GE","x":15,"y":0.79},{"s":"2GE","x":16,"y":0.795},{"s":"2GE","x":17,"y":0.8},{"s":"2GE","x":18,"y":0.8},{"s":"2GE","x":19,"y":0.805},{"s":"2GE","x":20,"y":0.81},{"s":"2GE","x":21,"y":0.815},{"s":"2GE","x":22,"y":0.82},{"s":"2GE","x":23,"y":0.81},{"s":"2GE","x":24,"y":0.815},{"s":"2GE","x":25,"y":0.81},{"s":"2GE","x":26,"y":0.81},{"s":"2GE","x":28,"y":0.805},{"s":"2GE","x":30,"y":0.81},{"s":"2GE","x":32,"y":0.81},{"s":"2GE","x":34,"y":0.815},{"s":"2GE","x":36,"y":0.81},{"s":"2GE","x":38,"y":0.815},{"s":"2GE","x":40,"y":0.815},{"s":"2GE","x":42,"y":0.82},{"s":"2GE","x":44,"y":0.815},{"s":"2GE","x":46,"y":0.82},{"s":"2GE","x":48,"y":0.825},{"s":"2GE","x":50,"y":0.82},
{"s":"2GR","x":0.1,"y":0.5},{"s":"2GR","x":0.3,"y":0.65},{"s":"2GR","x":0.5,"y":0.78},{"s":"2GR","x":1,"y":0.87},{"s":"2GR","x":1.5,"y":0.9},{"s":"2GR","x":2,"y":0.93},{"s":"2GR","x":2.5,"y":0.95},{"s":"2GR","x":3,"y":0.965},{"s":"2GR","x":4,"y":0.98},{"s":"2GR","x":5,"y":0.99},{"s":"2GR","x":6,"y":0.995},{"s":"2GR","x":8,"y":0.995},{"s":"2GR","x":10,"y":0.995},{"s":"2GR","x":20,"y":0.996},{"s":"2GR","x":30,"y":0.995},{"s":"2GR","x":40,"y":0.994},{"s":"2GR","x":50,"y":0.993},
{"s":"3CE","x":0.8,"y":0.8},{"s":"3CE","x":1,"y":0.77},{"s":"3CE","x":1.2,"y":0.72},{"s":"3CE","x":1.5,"y":0.69},{"s":"3CE","x":1.8,"y":0.71},{"s":"3CE","x":2,"y":0.73},{"s":"3CE","x":2.5,"y":0.72},{"s":"3CE","x":3,"y":0.72},{"s":"3CE","x":3.5,"y":0.715},{"s":"3CE","x":4,"y":0.725},{"s":"3CE","x":5,"y":0.735},{"s":"3CE","x":6,"y":0.745},{"s":"3CE","x":7,"y":0.75},{"s":"3CE","x":8,"y":0.755},{"s":"3CE","x":9,"y":0.765},{"s":"3CE","x":10,"y":0.775},{"s":"3CE","x":11,"y":0.78},{"s":"3CE","x":12,"y":0.785},{"s":"3CE","x":13,"y":0.79},{"s":"3CE","x":14,"y":0.79},{"s":"3CE","x":15,"y":0.795},{"s":"3CE","x":16,"y":0.8},{"s":"3CE","x":17,"y":0.8},{"s":"3CE","x":18,"y":0.805},{"s":"3CE","x":19,"y":0.81},{"s":"3CE","x":20,"y":0.81},{"s":"3CE","x":21,"y":0.81},{"s":"3CE","x":22,"y":0.815},{"s":"3CE","x":23,"y":0.81},{"s":"3CE","x":24,"y":0.81},{"s":"3CE","x":25,"y":0.805},{"s":"3CE","x":26,"y":0.81},{"s":"3CE","x":28,"y":0.81},{"s":"3CE","x":30,"y":0.805},{"s":"3CE","x":32,"y":0.81},{"s":"3CE","x":34,"y":0.815},{"s":"3CE","x":36,"y":0.81},{"s":"3CE","x":38,"y":0.815},{"s":"3CE","x":40,"y":0.815},{"s":"3CE","x":42,"y":0.815},{"s":"3CE","x":44,"y":0.82},{"s":"3CE","x":46,"y":0.825},{"s":"3CE","x":48,"y":0.825},{"s":"3CE","x":50,"y":0.825},
{"s":"3CR","x":0,"y":0.067},{"s":"3CR","x":0.1,"y":0.4},{"s":"3CR","x":0.2,"y":0.75},{"s":"3CR","x":0.4,"y":0.88},{"s":"3CR","x":0.7,"y":0.9},{"s":"3CR","x":1,"y":0.91},{"s":"3CR","x":1.5,"y":0.935},{"s":"3CR","x":2,"y":0.95},{"s":"3CR","x":3,"y":0.965},{"s":"3CR","x":4,"y":0.975},{"s":"3CR","x":5,"y":0.978},{"s":"3CR","x":6,"y":0.98},{"s":"3CR","x":8,"y":0.983},{"s":"3CR","x":10,"y":0.985},{"s":"3CR","x":15,"y":0.987},{"s":"3CR","x":20,"y":0.988},{"s":"3CR","x":30,"y":0.988},{"s":"3CR","x":40,"y":0.988},{"s":"3CR","x":50,"y":0.988}],
"pb":[
{"s":"1RE","x":0.3,"lo":0.2,"hi":1.0},{"s":"1RE","x":1,"lo":0.55,"hi":1.0},{"s":"1RE","x":2,"lo":0.6,"hi":1.0},{"s":"1RE","x":3,"lo":0.6,"hi":0.98},{"s":"1RE","x":5,"lo":0.68,"hi":0.95},{"s":"1RE","x":10,"lo":0.7,"hi":0.92},{"s":"1RE","x":15,"lo":0.72,"hi":0.9},{"s":"1RE","x":20,"lo":0.73,"hi":0.88},{"s":"1RE","x":25,"lo":0.7,"hi":0.88},{"s":"1RE","x":30,"lo":0.68,"hi":0.87},{"s":"1RE","x":40,"lo":0.68,"hi":0.86},{"s":"1RE","x":50,"lo":0.65,"hi":0.87},
{"s":"2GE","x":0.3,"lo":0.2,"hi":0.9},{"s":"2GE","x":1,"lo":0.55,"hi":0.8},{"s":"2GE","x":2,"lo":0.58,"hi":0.7},{"s":"2GE","x":5,"lo":0.66,"hi":0.75},{"s":"2GE","x":10,"lo":0.73,"hi":0.8},{"s":"2GE","x":20,"lo":0.78,"hi":0.84},{"s":"2GE","x":50,"lo":0.78,"hi":0.86}],
"pa":[{"t":"0.99±0.00","x":10,"y":0.99,"tx":8.0,"ty":0.947},{"t":"0.99±0.00","x":25,"y":0.99,"tx":23,"ty":0.95},{"t":"0.99±0.00","x":50,"y":0.99,"tx":48,"ty":0.947},{"t":"0.76±0.02","x":10,"y":0.755,"tx":8.0,"ty":0.715},{"t":"0.81±0.00","x":25,"y":0.805,"tx":23,"ty":0.76},{"t":"0.81±0.02","x":50,"y":0.81,"tx":48,"ty":0.76}]
},
"vconcat":[
{"hconcat":[
 {"width":1004,"height":466,
  "title":{"text":"Pick class dynamics, MACCS, A549/ATCC","fontSize":24,"offset":-12,"dx":177},
  "layer":[
   {"data":{"name":"ab"},"mark":{"type":"area","opacity":0.45},
    "encoding":{"x":{"field":"x","type":"quantitative","scale":{"domain":[-32.72,52.51],"nice":false,"zero":false},
      "axis":{"values":[0,10,20,30,40,50],"labelFontSize":18,"tickSize":4,"labelPadding":2,"title":"PickPercentage","titleFontSize":24,"titlePadding":4,"titleX":679}},
     "y":{"field":"lo","type":"quantitative","scale":{"domain":[-0.0519,1.0836],"nice":false,"zero":false},
      "axis":{"values":[0,0.2,0.4,0.6,0.8,1],"format":".1f","labelFontSize":18,"tickSize":4,"labelPadding":3,"title":"Active compound ratio","titleFontSize":24,"titlePadding":17,"offset":-355,"titleY":240}},
     "y2":{"field":"hi"},
     "fill":{"field":"s","type":"nominal","scale":{"domain":["1R","2G","3C"],"range":["#008000","#0000ff","#ff00ff"]},"legend":null}}},
   {"data":{"name":"a"},"mark":{"type":"line","strokeWidth":4},
    "encoding":{"x":{"field":"x","type":"quantitative"},"y":{"field":"y","type":"quantitative"},
     "color":{"field":"s","type":"nominal","scale":{"domain":["1R","2G","3C"],"range":["#008000","#0000ff","#ff00ff"]},
      "legend":{"orient":"none","legendX":687,"legendY":21,"title":null,"labelFontSize":18,"symbolType":"M-1.22,0H1.22","symbolStrokeWidth":4,"symbolSize":1024,"labelOffset":12,"padding":5,"rowPadding":0,"fillColor":"white","strokeColor":"#d9d9d9","cornerRadius":4,
       "labelExpr":"datum.label=='1R'?'1 Random (n=5,D=20105)':datum.label=='2G'?'2 Greedy (n=5,D=20105)':'3 Curious (n=5,D=20105)'"}}}}
  ]},
 {"vconcat":[
   {"width":496,"height":313,
    "title":{"text":"# actives (blue), # inactives (red)","fontSize":16,"offset":6},
    "layer":[
     {"data":{"name":"bi"},"mark":{"type":"bar","color":"#ff0000"},
      "encoding":{"x":{"field":"g","type":"ordinal","scale":{"paddingInner":0,"paddingOuter":0},
        "axis":{"values":[0,25,50,75,100],"labelAngle":-45,"labelFontSize":14,"tickSize":5,"labelPadding":3,"title":null,"domain":true,"domainColor":"#000000","tickColor":"#000000"}},
       "y":{"field":"n","type":"quantitative","scale":{"domain":[0,92],"nice":false},
        "axis":{"values":[0,10,20,30,40,50,60,70,80],"labelFontSize":14,"tickSize":5,"labelPadding":4,"title":null,"domain":true,"domainColor":"#000000","tickColor":"#000000"}}}},
     {"data":{"name":"ba"},"mark":{"type":"bar","color":"#0000ff"},
      "encoding":{"x":{"field":"g","type":"ordinal"},"y":{"field":"n","type":"quantitative"}}}
    ]},
   {"width":496,"height":62,
    "title":{"text":"MCC for each compound group (external dataset)","fontSize":17,"offset":8},
    "data":{"name":"hm"},"mark":{"type":"rect"},
    "encoding":{"x":{"field":"g","type":"ordinal","scale":{"paddingInner":0,"paddingOuter":0},
       "axis":{"values":[0,25,50,75,100],"labelAngle":-45,"labelFontSize":14,"tickSize":5,"labelPadding":3,"title":"Bemis-Murcko scaffold group","titleFontSize":14,"titlePadding":13,"domain":true,"domainColor":"#000000","domainWidth":1.5,"tickColor":"#000000"}},
     "color":{"field":"v","type":"quantitative","scale":{"scheme":"viridis","domain":[-1,1]},
      "legend":{"orient":"none","legendX":529,"legendY":2,"title":null,"direction":"vertical","gradientLength":466,"gradientThickness":49,"gradientStrokeColor":"#000000","gradientStrokeWidth":1,"labelFontSize":14,"labelOffset":12,"values":[-1,-0.75,-0.5,-0.25,0,0.25,0.5,0.75,1],"format":".2f","labelOverlap":false,"padding":0,"labelBaseline":"middle"}}}}
  ],"spacing":91,"bounds":"flush"}
],"spacing":130,"bounds":"flush"},
{"hconcat":[
 {"width":623,"height":448,
  "title":{"text":"A549/ATCC, MACCS, Scaffold clustering","fontSize":15.5,"offset":-9,"dx":6},
  "layer":[
   {"data":{"name":"mb"},"mark":{"type":"area","opacity":0.1},
    "encoding":{"x":{"field":"x","type":"quantitative","scale":{"domain":[-5.4,53.99],"nice":false,"zero":false},
      "axis":{"values":[0,10,20,30,40,50],"labelFontSize":16,"tickSize":3,"labelPadding":2,"title":"Size (%) of used training data points","titleFontSize":14,"titlePadding":5,"titleX":318}},
     "y":{"field":"lo","type":"quantitative","scale":{"domain":[-0.0166,1.005],"nice":false,"zero":false},
      "axis":{"values":[0,0.2,0.4,0.6,0.8,1],"format":".1f","labelFontSize":16,"tickSize":3,"labelPadding":4,"title":"MatthewsCorrelationCoefficient","titleFontSize":14,"titlePadding":7}},
     "y2":{"field":"hi"},
     "fill":{"field":"s","type":"nominal","scale":{"domain":["1RE","1RR","2GE","2GR","3CE","3CR"],"range":["#008000","#00fa9a","#0000ff","#00ffff","#ff0000","#ff00ff"]},"legend":null}}},
   {"data":{"name":"vl"},"mark":{"type":"rule","strokeDash":[6,4],"color":"#777777","strokeWidth":1.5},
    "encoding":{"x":{"field":"x","type":"quantitative"},"y":{"datum":-0.008},"y2":{"datum":1.006}}},
   {"data":{"name":"hl"},"mark":{"type":"rule","strokeDash":[6,4],"color":"#777777","strokeWidth":1.5},
    "encoding":{"y":{"field":"y","type":"quantitative"},"x":{"datum":-2.5},"x2":{"datum":52.5}}},
   {"data":{"name":"m"},"mark":{"type":"line"},
    "encoding":{"x":{"field":"x","type":"quantitative"},"y":{"field":"y","type":"quantitative"},
     "strokeWidth":{"field":"s","type":"nominal","scale":{"domain":["1RE","1RR","2GE","2GR","3CE","3CR"],"range":[5,4,5,4,5,4]},"legend":null},
     "color":{"field":"s","type":"nominal","scale":{"domain":["1RE","1RR","2GE","2GR","3CE","3CR"],"range":["#008000","#00fa9a","#0000ff","#00ffff","#ff0000","#ff00ff"]},
      "legend":{"orient":"none","legendX":405,"legendY":916,"title":null,"labelFontSize":14,"symbolType":"M-1.66,0H1.66","symbolStrokeWidth":5,"symbolSize":372,"labelOffset":10,"padding":3,"rowPadding":0,"fillColor":"white","strokeColor":"#d4d4d4","cornerRadius":3,
       "labelExpr":"datum.label=='1RE'?'1 Random Extern (n=5)':datum.label=='1RR'?'1 Random Retro (n=5)':datum.label=='2GE'?'2 Greedy Extern (n=5)':datum.label=='2GR'?'2 Greedy Retro (n=5)':datum.label=='3CE'?'3 Curious Extern (n=5)':'3 Curious Retro (n=5)'"}}}},
   {"data":{"name":"ma"},"mark":{"type":"rule","color":"#000000","strokeWidth":1},
    "encoding":{"x":{"field":"tx","type":"quantitative"},"y":{"field":"ty","type":"quantitative"},"x2":{"field":"x"},"y2":{"field":"y"}}},
   {"data":{"name":"ma"},"mark":{"type":"circle","color":"#000000","size":14,"opacity":1},
    "encoding":{"x":{"field":"x","type":"quantitative"},"y":{"field":"y","type":"quantitative"}}},
   {"data":{"name":"ma"},"mark":{"type":"text","fontSize":15,"angle":353,"color":"#000000"},
    "encoding":{"x":{"field":"tx","type":"quantitative"},"y":{"field":"ty","type":"quantitative"},"text":{"field":"t"}}}
  ]},
 {"width":604,"height":448,
  "title":{"text":"A549/ATCC, MACCS, Scaffold clustering","fontSize":15.5,"offset":-9.5,"dx":13},
  "layer":[
   {"data":{"name":"fb"},"mark":{"type":"area","opacity":0.1},
    "encoding":{"x":{"field":"x","type":"quantitative","scale":{"domain":[-5.24,52.56],"nice":false,"zero":false},
      "axis":{"values":[0,10,20,30,40,50],"labelFontSize":16,"tickSize":3,"labelPadding":2,"title":"Size (%) of used training data points","titleFontSize":14,"titlePadding":5,"titleX":315}},
     "y":{"field":"lo","type":"quantitative","scale":{"domain":[-0.0208,1.0027],"nice":false,"zero":false},
      "axis":{"values":[0,0.2,0.4,0.6,0.8,1],"format":".1f","labelFontSize":16,"tickSize":3,"labelPadding":4,"title":"Fmeasure","titleFontSize":14,"titlePadding":8}},
     "y2":{"field":"hi"},
     "fill":{"field":"s","type":"nominal","scale":{"domain":["1RE","1RR","2GE","2GR","3CE","3CR"],"range":["#008000","#00fa9a","#0000ff","#00ffff","#ff0000","#ff00ff"]},"legend":null}}},
   {"data":{"name":"vl"},"mark":{"type":"rule","strokeDash":[6,4],"color":"#777777","strokeWidth":1.5},
    "encoding":{"x":{"field":"x","type":"quantitative"},"y":{"datum":-0.008},"y2":{"datum":1.004}}},
   {"data":{"name":"hl"},"mark":{"type":"rule","strokeDash":[6,4],"color":"#777777","strokeWidth":1.5},
    "encoding":{"y":{"field":"y","type":"quantitative"},"x":{"datum":-2.5},"x2":{"datum":52.5}}},
   {"data":{"name":"f"},"mark":{"type":"line"},
    "encoding":{"x":{"field":"x","type":"quantitative"},"y":{"field":"y","type":"quantitative"},
     "strokeWidth":{"field":"k","type":"nominal","scale":{"domain":["1RE","1RR","2GE","2GR","3CE","3CR"],"range":[5,4,5,4,5,4]},"legend":null},
     "stroke":{"field":"k","type":"nominal","scale":{"domain":["1RE","1RR","2GE","2GR","3CE","3CR"],"range":["#008000","#00fa9a","#0000ff","#00ffff","#ff0000","#ff00ff"]},
      "legend":{"orient":"none","legendX":1181.5,"legendY":914.5,"title":null,"labelFontSize":14,"symbolType":"M-1.66,0H1.66","symbolStrokeWidth":5,"symbolSize":372,"labelOffset":10,"padding":3,"rowPadding":0,"fillColor":"white","strokeColor":"#d4d4d4","cornerRadius":3,
       "labelExpr":"datum.label=='1RE'?'1 Random Extern (n=5)':datum.label=='1RR'?'1 Random Retro (n=5)':datum.label=='2GE'?'2 Greedy Extern (n=5)':datum.label=='2GR'?'2 Greedy Retro (n=5)':datum.label=='3CE'?'3 Curious Extern (n=5)':'3 Curious Retro (n=5)'"}}}},
   {"data":{"name":"fa"},"mark":{"type":"rule","color":"#000000","strokeWidth":1},
    "encoding":{"x":{"field":"tx","type":"quantitative"},"y":{"field":"ty","type":"quantitative"},"x2":{"field":"x"},"y2":{"field":"y"}}},
   {"data":{"name":"fa"},"mark":{"type":"circle","color":"#000000","size":14,"opacity":1},
    "encoding":{"x":{"field":"x","type":"quantitative"},"y":{"field":"y","type":"quantitative"}}},
   {"data":{"name":"fa"},"mark":{"type":"text","fontSize":15,"angle":353,"color":"#000000"},
    "encoding":{"x":{"field":"tx","type":"quantitative"},"y":{"field":"ty","type":"quantitative"},"text":{"field":"t"}}}
  ]},
 {"width":621,"height":448,
  "title":{"text":"A549/ATCC, MACCS, Scaffold clustering","fontSize":17,"offset":-4},
  "layer":[
   {"data":{"name":"pb"},"mark":{"type":"area","opacity":0.1},
    "encoding":{"x":{"field":"x","type":"quantitative","scale":{"domain":[-2.49,52.37],"nice":false,"zero":false},
      "axis":{"values":[0,10,20,30,40,50],"labelFontSize":16,"tickSize":3,"labelPadding":2,"title":"Size(%) of used training data points","titleFontSize":16.5,"titlePadding":4,"titleX":311}},
     "y":{"field":"lo","type":"quantitative","scale":{"domain":[-0.0196,1.0233],"nice":false,"zero":false},
      "axis":{"values":[0,0.2,0.4,0.6,0.8,1],"format":".1f","labelFontSize":16,"tickSize":3,"labelPadding":4,"title":"PositivePredictiveValue","titleFontSize":16.5,"titlePadding":7}},
     "y2":{"field":"hi"},
     "fill":{"field":"s","type":"nominal","scale":{"domain":["1RE","1RR","2GE","2GR","3CE","3CR"],"range":["#008000","#00fa9a","#0000ff","#00ffff","#ff0000","#ff00ff"]},"legend":null}}},
   {"data":{"name":"vl"},"mark":{"type":"rule","strokeDash":[6,4],"color":"#777777","strokeWidth":1.5},
    "encoding":{"x":{"field":"x","type":"quantitative"},"y":{"datum":0},"y2":{"datum":1.012}}},
   {"data":{"name":"p"},"mark":{"type":"line"},
    "encoding":{"x":{"field":"x","type":"quantitative"},"y":{"field":"y","type":"quantitative"},
     "strokeWidth":{"field":"s","type":"nominal","scale":{"domain":["1RE","1RR","2GE","2GR","3CE","3CR"],"range":[5,4,5,4,5,4]},"legend":null},
     "color":{"field":"s","type":"nominal","scale":{"domain":["1RE","1RR","2GE","2GR","3CE","3CR"],"range":["#008000","#00fa9a","#0000ff","#00ffff","#ff0000","#ff00ff"]}}}},
   {"data":{"name":"pa"},"mark":{"type":"rule","color":"#000000","strokeWidth":1},
    "encoding":{"x":{"field":"tx","type":"quantitative"},"y":{"field":"ty","type":"quantitative"},"x2":{"field":"x"},"y2":{"field":"y"}}},
   {"data":{"name":"pa"},"mark":{"type":"text","fontSize":15,"angle":353,"color":"#000000"},
    "encoding":{"x":{"field":"tx","type":"quantitative"},"y":{"field":"ty","type":"quantitative"},"text":{"field":"t"}}}
  ]}
],"spacing":156,"bounds":"flush"}
],
"spacing":60
}
